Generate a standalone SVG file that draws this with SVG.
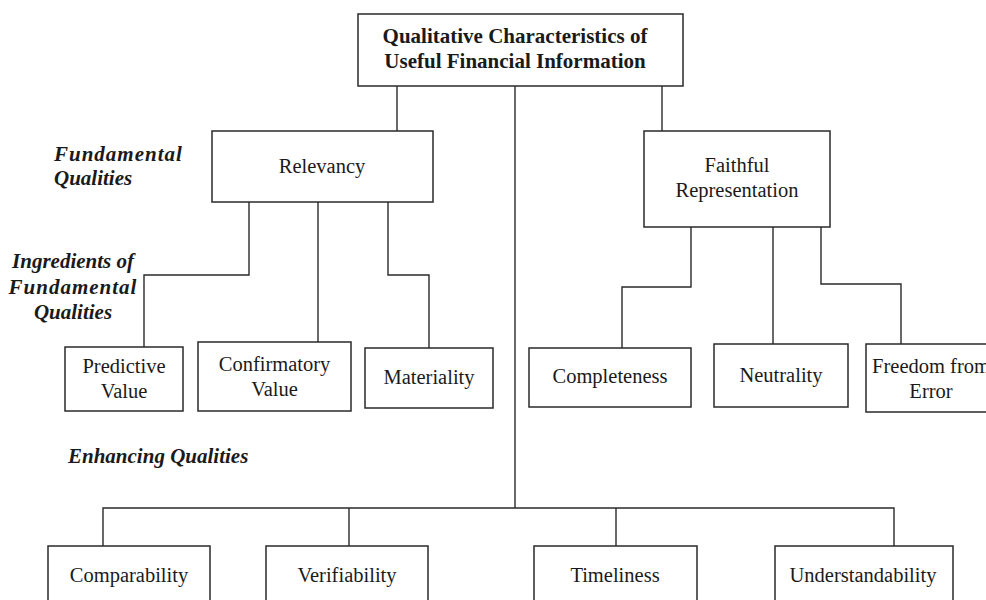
<svg xmlns="http://www.w3.org/2000/svg" width="986" height="600" viewBox="0 0 986 600">
<style>
  .box { fill: #fff; stroke: #2a2a2a; stroke-width: 1.5; }
  .con { fill: none; stroke: #2a2a2a; stroke-width: 1.4; }
  .t { font-family: "Liberation Serif", "Times New Roman", serif; font-size: 20.5px; fill: #1a1a1a; text-anchor: middle; }
  .title { font-family: "Liberation Serif", "Times New Roman", serif; font-size: 21px; font-weight: bold; fill: #1a1a1a; text-anchor: middle; }
  .lab { font-family: "Liberation Serif", "Times New Roman", serif; font-size: 21px; font-weight: bold; font-style: italic; fill: #1a1a1a; }
</style>
<rect width="986" height="600" fill="#fff"/>
<g id="connectors">
  <path class="con" d="M397 86 V131"/>
  <path class="con" d="M662 86 V131"/>
  <path class="con" d="M515 86 V508"/>
  <path class="con" d="M103 546 V508 H894 V546"/>
  <path class="con" d="M349 508 V546"/>
  <path class="con" d="M616 508 V546"/>
  <path class="con" d="M249 202 V275 H144 V347"/>
  <path class="con" d="M318 202 V342"/>
  <path class="con" d="M388 202 V275 H429 V348"/>
  <path class="con" d="M691 227 V287 H622 V348"/>
  <path class="con" d="M773 227 V344"/>
  <path class="con" d="M821 227 V284 H901 V344"/>
</g>
<g id="labels">
  <text class="lab" x="54" y="161" letter-spacing="1">Fundamental</text>
  <text class="lab" x="54" y="185">Qualities</text>
  <text class="lab" x="73" y="268" text-anchor="middle">Ingredients of</text>
  <text class="lab" x="73" y="294" text-anchor="middle" letter-spacing="1">Fundamental</text>
  <text class="lab" x="73" y="319" text-anchor="middle">Qualities</text>
  <text class="lab" x="68" y="463">Enhancing Qualities</text>
</g>
<g id="root">
  <rect class="box" x="358" y="14" width="325" height="72"/>
  <text class="title" x="515" y="43">Qualitative Characteristics of</text>
  <text class="title" x="515" y="68">Useful Financial Information</text>
</g>
<g id="relevancy">
  <rect class="box" x="212" y="131" width="221" height="71"/>
  <text class="t" x="322" y="173">Relevancy</text>
</g>
<g id="faithful">
  <rect class="box" x="644" y="131" width="186" height="96"/>
  <text class="t" x="737" y="172">Faithful</text>
  <text class="t" x="737" y="197">Representation</text>
</g>
<g id="predictive">
  <rect class="box" x="65" y="347" width="118" height="64"/>
  <text class="t" x="124" y="373">Predictive</text>
  <text class="t" x="124" y="398">Value</text>
</g>
<g id="confirmatory">
  <rect class="box" x="198" y="342" width="153" height="69"/>
  <text class="t" x="274.5" y="371">Confirmatory</text>
  <text class="t" x="274.5" y="396">Value</text>
</g>
<g id="materiality">
  <rect class="box" x="365" y="348" width="128" height="60"/>
  <text class="t" x="429" y="384">Materiality</text>
</g>
<g id="completeness">
  <rect class="box" x="529" y="348" width="162" height="59"/>
  <text class="t" x="610" y="383">Completeness</text>
</g>
<g id="neutrality">
  <rect class="box" x="714" y="344" width="134" height="63"/>
  <text class="t" x="781" y="382">Neutrality</text>
</g>
<g id="freedom">
  <rect class="box" x="866" y="344" width="130" height="68"/>
  <text class="t" x="931" y="373">Freedom from</text>
  <text class="t" x="931" y="398">Error</text>
</g>
<g id="comparability">
  <rect class="box" x="48" y="546" width="162" height="70"/>
  <text class="t" x="129" y="582">Comparability</text>
</g>
<g id="verifiability">
  <rect class="box" x="266" y="546" width="162" height="70"/>
  <text class="t" x="347" y="582">Verifiability</text>
</g>
<g id="timeliness">
  <rect class="box" x="534" y="546" width="163" height="70"/>
  <text class="t" x="615" y="582">Timeliness</text>
</g>
<g id="understandability">
  <rect class="box" x="775" y="546" width="178" height="70"/>
  <text class="t" x="863" y="582">Understandability</text>
</g>
</svg>
